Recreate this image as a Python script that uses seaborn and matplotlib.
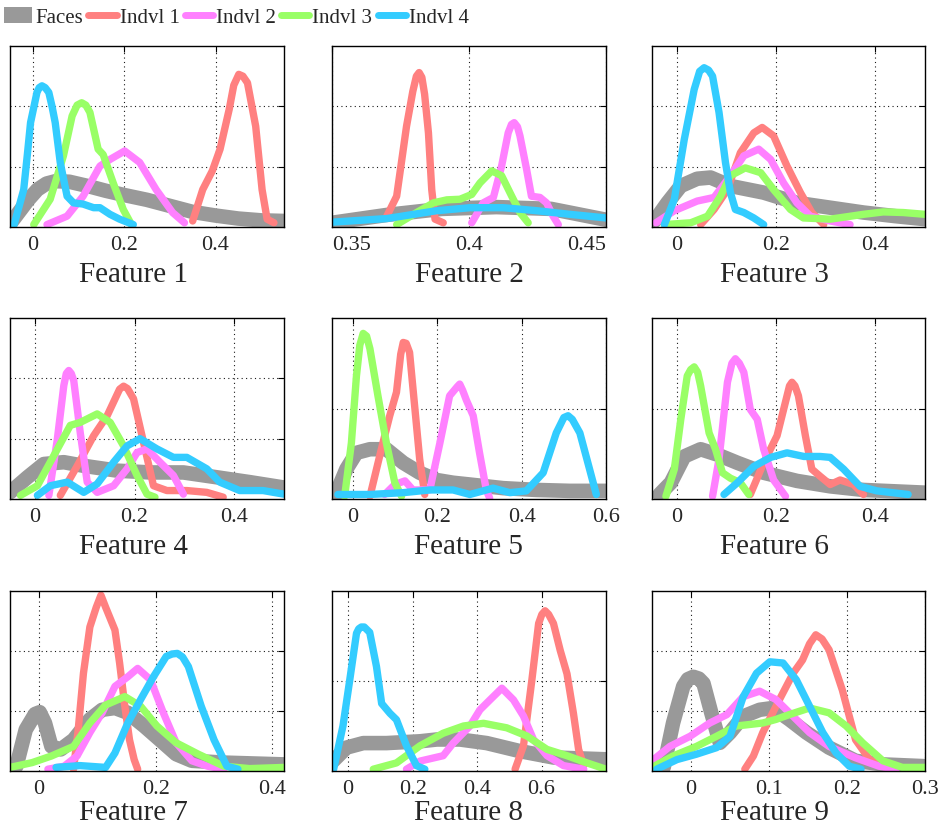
import numpy as np
import pandas as pd
import matplotlib
matplotlib.use("Agg")
import matplotlib.pyplot as plt
import seaborn as sns
from matplotlib.lines import Line2D
from matplotlib.patches import Patch

# ---------------- data (y in units of one y-grid step) ----------------
SERIES = ["Faces", "Indvl 1", "Indvl 2", "Indvl 3", "Indvl 4"]
COLORS = ["#999999", "#FF8080", "#FF80FF", "#99FF66", "#33CCFF"]
TITLES = ["Feature %d" % i for i in range(1, 10)]
XLIMS = [(-0.05, 0.55), (0.35, 0.45), (-0.05, 0.5), (-0.05, 0.5), (-0.05, 0.6),
         (-0.05, 0.5), (-0.05, 0.42), (-0.05, 0.8), (-0.05, 0.3)]
XTICKS = [[0, 0.2, 0.4], [0.35, 0.4, 0.45], [0, 0.2, 0.4], [0, 0.2, 0.4], [0, 0.2, 0.4, 0.6],
          [0, 0.2, 0.4], [0, 0.2, 0.4], [0, 0.2, 0.4, 0.6], [0, 0.1, 0.2, 0.3]]
XTICKLABELS = [["0", "0.2", "0.4"], ["0.35", "0.4", "0.45"], ["0", "0.2", "0.4"],
               ["0", "0.2", "0.4"], ["0", "0.2", "0.4", "0.6"], ["0", "0.2", "0.4"],
               ["0", "0.2", "0.4"], ["0", "0.2", "0.4", "0.6"], ["0", "0.1", "0.2", "0.3"]]
YMAX = [3, 3, 3, 3, 2, 2, 3, 2, 3]

# Feature 1
F1_FACES_X = [-0.05, -0.03, -0.01, 0.01, 0.03, 0.05, 0.08, 0.12, 0.16, 0.2, 0.25, 0.3, 0.35, 0.4, 0.45, 0.5, 0.55]
F1_FACES_Y = [0.05, 0.25, 0.45, 0.62, 0.72, 0.76, 0.75, 0.68, 0.60, 0.53, 0.45, 0.35, 0.25, 0.19, 0.14, 0.11, 0.10]
F1_IND1_X = [0.35, 0.372, 0.393, 0.41, 0.43, 0.44, 0.451, 0.46, 0.47, 0.488, 0.502, 0.513, 0.528]
F1_IND1_Y = [0.10, 0.62, 0.93, 1.29, 1.95, 2.35, 2.53, 2.50, 2.39, 1.67, 0.62, 0.13, 0.07]
F1_IND2_X = [0.031, 0.075, 0.11, 0.147, 0.169, 0.201, 0.234, 0.27, 0.306, 0.332]
F1_IND2_Y = [0.04, 0.18, 0.51, 1.01, 1.12, 1.26, 1.07, 0.62, 0.24, 0.07]
F1_IND3_X = [0.002, 0.038, 0.067, 0.086, 0.097, 0.107, 0.116, 0.125, 0.143, 0.154, 0.176, 0.198, 0.216]
F1_IND3_Y = [0.04, 0.46, 1.18, 1.84, 2.02, 2.06, 2.02, 1.90, 1.29, 1.20, 0.73, 0.29, 0.04]
F1_IND4_X = [-0.041, -0.02, -0.012, -0.005, 0.009, 0.014, 0.02, 0.027, 0.035, 0.042, 0.049, 0.06, 0.075, 0.089, 0.11, 0.133, 0.147, 0.169, 0.19, 0.22]
F1_IND4_Y = [0.04, 0.62, 1.20, 1.73, 2.23, 2.31, 2.34, 2.31, 2.23, 2.00, 1.73, 1.07, 0.51, 0.40, 0.38, 0.32, 0.32, 0.21, 0.13, 0.04]

# Feature 2
F2_FACES_X = [0.35, 0.37, 0.39, 0.41, 0.43, 0.45]
F2_FACES_Y = [0.07, 0.20, 0.30, 0.33, 0.30, 0.12]
F2_IND1_X = [0.370, 0.3736, 0.3772, 0.3795, 0.3808, 0.3818, 0.3828, 0.3838, 0.3852, 0.3864, 0.3876, 0.3906]
F2_IND1_Y = [0.18, 0.51, 1.67, 2.25, 2.50, 2.56, 2.48, 2.20, 1.56, 0.62, 0.13, 0.07]
F2_IND2_X = [0.401, 0.4052, 0.4089, 0.4119, 0.4143, 0.4155, 0.4165, 0.4177, 0.4186, 0.421, 0.4228, 0.4259, 0.4283, 0.4307, 0.4326]
F2_IND2_Y = [0.07, 0.40, 0.49, 1.01, 1.56, 1.70, 1.73, 1.66, 1.51, 0.96, 0.51, 0.49, 0.40, 0.18, 0.04]
F2_IND3_X = [0.3736, 0.3809, 0.387, 0.3919, 0.3967, 0.401, 0.404, 0.4083, 0.4119, 0.4156, 0.4186, 0.4216]
F2_IND3_Y = [0.04, 0.24, 0.40, 0.45, 0.46, 0.54, 0.73, 0.93, 0.85, 0.51, 0.24, 0.07]
F2_IND4_X = [0.35, 0.37, 0.3882, 0.4004, 0.4125, 0.4247, 0.4368, 0.45]
F2_IND4_Y = [0.08, 0.14, 0.27, 0.32, 0.32, 0.27, 0.21, 0.15]

# Feature 3
F3_FACES_X = [-0.045, -0.019, 0.008, 0.041, 0.068, 0.108, 0.175, 0.242, 0.309, 0.376, 0.44, 0.5]
F3_FACES_Y = [0.10, 0.40, 0.68, 0.80, 0.82, 0.68, 0.57, 0.40, 0.32, 0.24, 0.18, 0.13]
F3_IND1_X = [0.048, 0.075, 0.102, 0.128, 0.155, 0.172, 0.195, 0.222, 0.249, 0.272, 0.296]
F3_IND1_Y = [0.04, 0.29, 0.62, 1.23, 1.56, 1.65, 1.51, 1.01, 0.57, 0.24, 0.04]
F3_IND2_X = [-0.042, -0.005, 0.041, 0.075, 0.108, 0.135, 0.165, 0.189, 0.215, 0.242, 0.269, 0.309, 0.349]
F3_IND2_Y = [0.07, 0.27, 0.43, 0.49, 0.85, 1.18, 1.29, 1.12, 0.73, 0.40, 0.18, 0.10, 0.04]
F3_IND3_X = [-0.025, 0.028, 0.062, 0.088, 0.108, 0.138, 0.169, 0.195, 0.229, 0.255, 0.309, 0.376, 0.416, 0.456, 0.5]
F3_IND3_Y = [0.04, 0.07, 0.18, 0.51, 0.85, 0.98, 0.90, 0.62, 0.29, 0.15, 0.13, 0.21, 0.25, 0.24, 0.21]
F3_IND4_X = [-0.025, -0.005, 0.015, 0.035, 0.046, 0.055, 0.064, 0.072, 0.085, 0.098, 0.108, 0.118, 0.135, 0.155, 0.175]
F3_IND4_Y = [0.04, 0.46, 1.45, 2.28, 2.58, 2.64, 2.60, 2.50, 1.90, 1.07, 0.57, 0.29, 0.24, 0.15, 0.04]

# Feature 4
F4_FACES_X = [-0.05, -0.015, 0.018, 0.058, 0.098, 0.165, 0.231, 0.298, 0.365, 0.431, 0.5]
F4_FACES_Y = [0.11, 0.36, 0.58, 0.61, 0.55, 0.47, 0.44, 0.44, 0.36, 0.28, 0.19]
F4_IND1_X = [0.051, 0.085, 0.118, 0.145, 0.17, 0.178, 0.186, 0.198, 0.218, 0.238, 0.265, 0.305, 0.345, 0.378]
F4_IND1_Y = [0.06, 0.55, 1.05, 1.38, 1.82, 1.87, 1.83, 1.66, 0.94, 0.22, 0.14, 0.14, 0.11, 0.03]
F4_IND2_X = [0.028, 0.045, 0.058, 0.063, 0.068, 0.073, 0.078, 0.091, 0.105, 0.125, 0.158, 0.185, 0.205, 0.225, 0.251, 0.278, 0.298]
F4_IND2_Y = [0.06, 0.99, 1.88, 2.08, 2.13, 2.08, 1.96, 1.10, 0.28, 0.11, 0.22, 0.50, 0.77, 0.83, 0.61, 0.39, 0.08]
F4_IND3_X = [-0.029, 0.005, 0.038, 0.071, 0.091, 0.125, 0.151, 0.178, 0.205, 0.225, 0.241]
F4_IND3_Y = [0.06, 0.22, 0.72, 1.22, 1.27, 1.41, 1.27, 0.88, 0.39, 0.08, 0.03]
F4_IND4_X = [0.005, 0.031, 0.065, 0.098, 0.125, 0.158, 0.185, 0.211, 0.245, 0.278, 0.305, 0.345, 0.371, 0.411, 0.458, 0.5]
F4_IND4_Y = [0.06, 0.22, 0.28, 0.11, 0.25, 0.61, 0.88, 1.00, 0.83, 0.69, 0.69, 0.50, 0.28, 0.14, 0.14, 0.08]

# Feature 5
F5_FACES_X = [-0.043, -0.016, 0.008, 0.04, 0.079, 0.119, 0.158, 0.198, 0.237, 0.277, 0.356, 0.435, 0.514, 0.6]
F5_FACES_Y = [0.03, 0.33, 0.51, 0.55, 0.55, 0.40, 0.29, 0.21, 0.18, 0.16, 0.12, 0.10, 0.09, 0.09]
F5_IND1_X = [0.04, 0.067, 0.087, 0.103, 0.113, 0.119, 0.126, 0.134, 0.146, 0.158, 0.17]
F5_IND1_Y = [0.03, 0.55, 0.92, 1.18, 1.60, 1.73, 1.72, 1.62, 1.03, 0.44, 0.05]
F5_IND2_X = [0.075, 0.099, 0.123, 0.142, 0.182, 0.206, 0.229, 0.247, 0.253, 0.26, 0.269, 0.285, 0.30, 0.316, 0.324]
F5_IND2_Y = [0.05, 0.16, 0.20, 0.10, 0.10, 0.62, 1.14, 1.24, 1.27, 1.20, 1.09, 0.92, 0.51, 0.10, 0.01]
F5_IND3_X = [-0.02, -0.004, 0.008, 0.016, 0.024, 0.032, 0.04, 0.059, 0.079, 0.099, 0.115]
F5_IND3_Y = [0.03, 0.62, 1.36, 1.70, 1.83, 1.80, 1.66, 1.14, 0.62, 0.18, 0.03]
F5_IND4_X = [-0.036, 0.04, 0.119, 0.182, 0.237, 0.277, 0.332, 0.372, 0.411, 0.451, 0.482, 0.50, 0.51, 0.52, 0.538, 0.561, 0.577]
F5_IND4_Y = [0.05, 0.05, 0.07, 0.10, 0.10, 0.05, 0.12, 0.07, 0.09, 0.29, 0.73, 0.90, 0.92, 0.88, 0.73, 0.33, 0.05]

# Feature 6
F6_FACES_X = [-0.035, -0.012, 0.015, 0.048, 0.082, 0.122, 0.175, 0.242, 0.309, 0.376, 0.5]
F6_FACES_Y = [0.05, 0.18, 0.47, 0.55, 0.49, 0.40, 0.29, 0.20, 0.14, 0.10, 0.07]
F6_IND1_X = [0.148, 0.175, 0.202, 0.222, 0.227, 0.232, 0.238, 0.245, 0.259, 0.272, 0.289, 0.309, 0.329, 0.356, 0.376]
F6_IND1_Y = [0.05, 0.40, 0.70, 1.14, 1.25, 1.29, 1.25, 1.14, 0.70, 0.33, 0.25, 0.16, 0.21, 0.16, 0.05]
F6_IND2_X = [0.072, 0.085, 0.102, 0.111, 0.118, 0.126, 0.135, 0.148, 0.162, 0.175, 0.195, 0.219]
F6_IND2_Y = [0.03, 0.44, 1.29, 1.50, 1.55, 1.50, 1.40, 0.99, 0.88, 0.55, 0.21, 0.03]
F6_IND3_X = [-0.022, -0.005, 0.008, 0.021, 0.028, 0.035, 0.042, 0.048, 0.065, 0.078, 0.092, 0.108, 0.128, 0.145]
F6_IND3_Y = [0.03, 0.33, 0.88, 1.36, 1.43, 1.46, 1.40, 1.25, 0.73, 0.55, 0.29, 0.23, 0.18, 0.05]
F6_IND4_X = [0.095, 0.122, 0.155, 0.189, 0.222, 0.256, 0.289, 0.309, 0.336, 0.369, 0.403, 0.466]
F6_IND4_Y = [0.05, 0.18, 0.36, 0.46, 0.51, 0.47, 0.47, 0.46, 0.33, 0.14, 0.09, 0.05]

# Feature 7
F7_FACES_X = [-0.039, -0.023, -0.007, 0.001, 0.01, 0.021, 0.037, 0.059, 0.087, 0.108, 0.13, 0.152, 0.18, 0.207, 0.235, 0.262, 0.317, 0.42]
F7_FACES_Y = [0.08, 0.69, 0.95, 0.98, 0.80, 0.41, 0.36, 0.52, 0.86, 1.02, 1.05, 0.97, 0.75, 0.52, 0.28, 0.17, 0.14, 0.11]
F7_IND1_X = [0.059, 0.067, 0.076, 0.087, 0.098, 0.106, 0.114, 0.122, 0.13, 0.138, 0.147, 0.155, 0.163, 0.169]
F7_IND1_Y = [0.03, 0.69, 1.63, 2.40, 2.73, 2.93, 2.73, 2.54, 2.35, 1.80, 1.08, 0.52, 0.19, 0.03]
F7_IND2_X = [0.015, 0.043, 0.065, 0.087, 0.108, 0.13, 0.152, 0.169, 0.191, 0.213, 0.235, 0.262, 0.289, 0.317]
F7_IND2_Y = [0.03, 0.08, 0.25, 0.64, 0.97, 1.41, 1.57, 1.71, 1.52, 0.97, 0.47, 0.17, 0.08, 0.03]
F7_IND3_X = [-0.05, -0.012, 0.021, 0.059, 0.087, 0.114, 0.147, 0.174, 0.202, 0.235, 0.273, 0.317, 0.361, 0.42]
F7_IND3_Y = [0.06, 0.14, 0.25, 0.41, 0.80, 1.10, 1.24, 1.08, 0.75, 0.47, 0.28, 0.08, 0.04, 0.06]
F7_IND4_X = [0.029, 0.07, 0.114, 0.13, 0.152, 0.174, 0.196, 0.218, 0.228, 0.237, 0.246, 0.256, 0.278, 0.30, 0.322, 0.341]
F7_IND4_Y = [0.06, 0.09, 0.06, 0.30, 0.80, 1.19, 1.57, 1.91, 1.95, 1.96, 1.90, 1.74, 1.08, 0.52, 0.08, 0.03]

# Feature 8
F8_FACES_X = [-0.047, -0.005, 0.047, 0.119, 0.223, 0.275, 0.347, 0.43, 0.534, 0.637, 0.8]
F8_FACES_Y = [0.11, 0.26, 0.31, 0.31, 0.33, 0.35, 0.35, 0.31, 0.22, 0.15, 0.13]
F8_IND1_X = [0.518, 0.544, 0.57, 0.591, 0.601, 0.611, 0.622, 0.637, 0.658, 0.679, 0.699, 0.715, 0.731]
F8_IND1_Y = [0.02, 0.28, 1.01, 1.64, 1.74, 1.78, 1.74, 1.64, 1.34, 1.08, 0.64, 0.24, 0.06]
F8_IND2_X = [0.181, 0.223, 0.295, 0.326, 0.378, 0.409, 0.44, 0.477, 0.513, 0.544, 0.575, 0.617, 0.668, 0.731]
F8_IND2_Y = [0.02, 0.11, 0.17, 0.31, 0.50, 0.68, 0.79, 0.92, 0.79, 0.61, 0.35, 0.17, 0.06, 0.02]
F8_IND3_X = [0.078, 0.15, 0.223, 0.295, 0.358, 0.42, 0.492, 0.554, 0.617, 0.679, 0.741, 0.8]
F8_IND3_Y = [0.02, 0.09, 0.28, 0.42, 0.50, 0.53, 0.48, 0.39, 0.24, 0.17, 0.09, 0.02]
F8_IND4_X = [-0.045, -0.016, 0.005, 0.026, 0.033, 0.041, 0.05, 0.067, 0.088, 0.104, 0.13, 0.15, 0.181, 0.212, 0.238]
F8_IND4_Y = [0.02, 0.50, 1.01, 1.53, 1.58, 1.60, 1.60, 1.54, 1.16, 0.75, 0.64, 0.57, 0.28, 0.06, 0.02]

# Feature 9
F9_FACES_X = [-0.035, -0.023, -0.01, -0.004, 0.003, 0.01, 0.016, 0.026, 0.037, 0.05, 0.067, 0.088, 0.105, 0.126, 0.148, 0.177, 0.211, 0.246, 0.3]
F9_FACES_Y = [0.06, 0.80, 1.41, 1.53, 1.57, 1.54, 1.46, 0.97, 0.47, 0.64, 0.91, 1.02, 1.05, 0.86, 0.64, 0.39, 0.17, 0.11, 0.08]
F9_IND1_X = [0.069, 0.08, 0.092, 0.109, 0.131, 0.143, 0.152, 0.16, 0.168, 0.177, 0.194, 0.211, 0.229, 0.246, 0.258]
F9_IND1_Y = [0.03, 0.25, 0.64, 1.08, 1.63, 1.85, 2.12, 2.27, 2.20, 2.02, 1.35, 0.52, 0.19, 0.08, 0.03]
F9_IND2_X = [-0.05, -0.027, -0.001, 0.024, 0.046, 0.067, 0.088, 0.109, 0.131, 0.152, 0.177, 0.211, 0.241, 0.263]
F9_IND2_Y = [0.17, 0.41, 0.58, 0.80, 0.94, 1.24, 1.33, 1.19, 0.91, 0.64, 0.41, 0.22, 0.08, 0.03]
F9_IND3_X = [-0.05, -0.023, 0.007, 0.033, 0.058, 0.092, 0.109, 0.126, 0.152, 0.177, 0.199, 0.22, 0.246, 0.271, 0.3]
F9_IND3_Y = [0.06, 0.25, 0.41, 0.58, 0.75, 0.80, 0.86, 0.94, 1.05, 0.97, 0.75, 0.47, 0.17, 0.06, 0.06]
F9_IND4_X = [-0.044, -0.018, 0.007, 0.033, 0.05, 0.067, 0.084, 0.101, 0.118, 0.135, 0.152, 0.169, 0.186, 0.203, 0.218]
F9_IND4_Y = [0.03, 0.19, 0.28, 0.39, 0.58, 1.24, 1.63, 1.82, 1.80, 1.52, 1.08, 0.64, 0.30, 0.08, 0.03]

# ---------------- assemble ----------------
g = globals()
frames = []
for p in range(1, 10):
    for s, key in zip(SERIES, ["FACES", "IND1", "IND2", "IND3", "IND4"]):
        xs = g["F%d_%s_X" % (p, key)]
        ys = g["F%d_%s_Y" % (p, key)]
        frames.append(pd.DataFrame({"panel": p, "series": s, "x": xs, "y": ys}))
df = pd.concat(frames, ignore_index=True)

PALETTE = dict(zip(SERIES, COLORS))
SIZES = {"Faces": 10.5, "Indvl 1": 5.3, "Indvl 2": 5.3, "Indvl 3": 5.3, "Indvl 4": 5.3}

sns.set_style("white")
plt.rcParams["font.family"] = ["Liberation Serif", "DejaVu Serif"]
plt.rcParams["axes.linewidth"] = 1.0

W, H = 940, 828
fig = plt.figure(figsize=(W / 100, H / 100), dpi=100)

COL_L = [10, 332, 652]
COL_R = [284, 606, 925]
ROW_T = [47, 319, 592]
ROW_B = [228, 500, 772]
LABEL_X = [0.449, 0.5, 0.447]
LABEL_DY = [54, 54, 48]

for i in range(9):
    r, c = divmod(i, 3)
    ax = fig.add_axes([COL_L[c] / W, 1 - ROW_B[r] / H,
                       (COL_R[c] - COL_L[c]) / W, (ROW_B[r] - ROW_T[r]) / H])
    d = df[df["panel"] == i + 1]
    sns.lineplot(data=d, x="x", y="y", hue="series", size="series",
                 hue_order=SERIES, size_order=SERIES, palette=PALETTE, sizes=SIZES,
                 sort=False, estimator=None, legend=False, ax=ax)
    for ln in ax.lines:
        ln.set_solid_capstyle("round")
        ln.set_solid_joinstyle("round")
    ax.set_xlim(*XLIMS[i])
    ax.set_ylim(0, YMAX[i])
    ax.set_xticks(XTICKS[i])
    ax.set_xticklabels(XTICKLABELS[i], fontsize=16)
    ax.set_yticks(list(range(1, YMAX[i])))
    ax.set_yticklabels([])
    ax.tick_params(direction="in", top=True, right=True, length=4, width=0.8,
                   color="black", pad=6)
    ax.grid(True, linestyle=(0, (1, 3)), color="black", linewidth=0.8, alpha=0.9)
    for sp in ax.spines.values():
        sp.set_color("black")
        sp.set_linewidth(1.0)
        sp.set_visible(True)
    ax.set_ylabel("")
    ax.set_xlabel(TITLES[i], fontsize=21, va="baseline")
    hpx = ROW_B[r] - ROW_T[r]
    ax.xaxis.set_label_coords(LABEL_X[c], -LABEL_DY[r] / hpx)
    if i == 1:
        lbls = ax.get_xticklabels()
        lbls[0].set_ha("left")
        lbls[-1].set_ha("right")

handles = [Patch(facecolor=COLORS[0], edgecolor="none")] + \
          [Line2D([0], [0], color=cc, lw=5) for cc in COLORS[1:]]
fig.legend(handles, SERIES, loc="center left", bbox_to_anchor=(0.0, 1 - 18 / H),
           ncol=5, frameon=False, fontsize=15, handlelength=1.35, handleheight=0.8,
           handletextpad=0.15, columnspacing=0.25, borderaxespad=0, borderpad=0.2)

fig.savefig("out.png", dpi=100)
